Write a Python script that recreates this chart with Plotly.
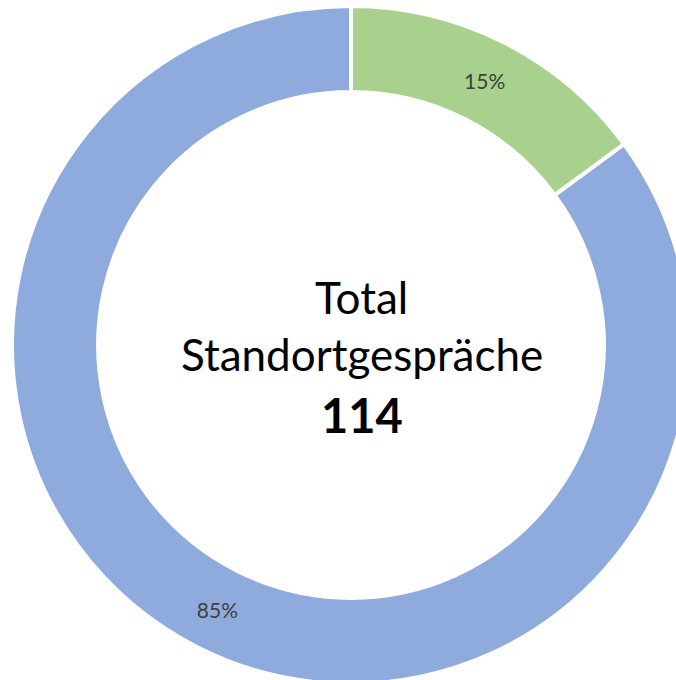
import plotly.graph_objects as go

labels = ["Ja", "Nein"]
values = [17, 97]
colors = ["#A9D18E", "#8FAADC"]
total_label = "Total"
subtitle = "Standortgespräche"
total_value = sum(values)

fig = go.Figure(go.Pie(
    labels=labels,
    values=values,
    hole=0.746,
    sort=False,
    direction="clockwise",
    rotation=0,
    marker=dict(colors=colors, line=dict(color="white", width=4)),
    texttemplate="%{percent:.0%}",
    textposition="inside",
    insidetextorientation="horizontal",
    textfont=dict(family="Lato", size=21, color="#404040"),
    showlegend=False,
    hoverinfo="label+value+percent",
))

fnt = "Lato"
fig.add_annotation(x=0.516, y=0.571, xref="paper", yref="paper", text=total_label,
                   showarrow=False, font=dict(family=fnt, size=44, color="black"),
                   xanchor="center", yanchor="middle")
fig.add_annotation(x=0.516, y=0.487, xref="paper", yref="paper", text=subtitle,
                   showarrow=False, font=dict(family=fnt, size=44, color="black"),
                   xanchor="center", yanchor="middle")
fig.add_annotation(x=0.516, y=0.397, xref="paper", yref="paper", text=f"<b>{total_value}</b>",
                   showarrow=False, font=dict(family=fnt, size=47, color="black"),
                   xanchor="center", yanchor="middle")

fig.update_layout(
    width=702, height=691,
    margin=dict(l=12, r=12, t=6, b=7),
    paper_bgcolor="white", plot_bgcolor="white",
)

fig.write_html("out.html", config={"displayModeBar": False},
               post_script="document.body.style.margin='0';document.body.style.overflow='hidden';")
